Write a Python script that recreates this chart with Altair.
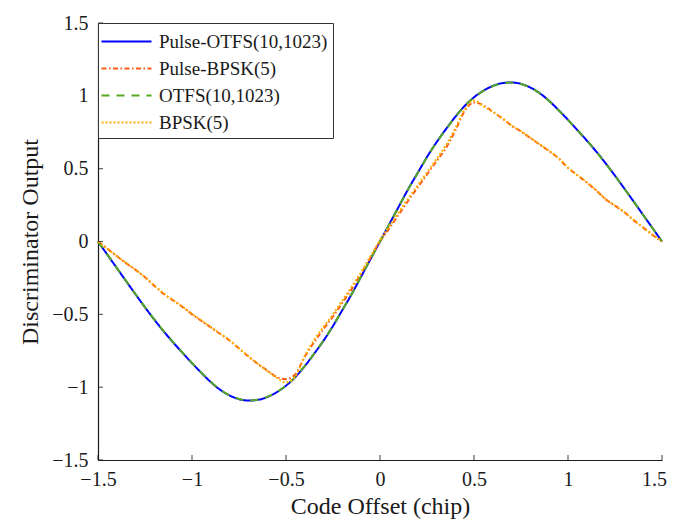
import altair as alt
import pandas as pd

# Code offset grid (chip)
offset = [-1.5, -1.45, -1.4, -1.35, -1.3, -1.25, -1.2, -1.15, -1.1, -1.05,
          -1.0, -0.95, -0.9, -0.85, -0.8, -0.75, -0.7, -0.65, -0.6, -0.55,
          -0.5, -0.45, -0.4, -0.35, -0.3, -0.25, -0.2, -0.15, -0.1, -0.05,
          0.0, 0.05, 0.1, 0.15, 0.2, 0.25, 0.3, 0.35, 0.4, 0.45,
          0.5, 0.55, 0.6, 0.65, 0.7, 0.75, 0.8, 0.85, 0.9, 0.95,
          1.0, 1.05, 1.1, 1.15, 1.2, 1.25, 1.3, 1.35, 1.4, 1.45, 1.5]

pulse_otfs = [0.0, -0.091, -0.182, -0.273, -0.363, -0.452, -0.537, -0.618, -0.693, -0.765,
              -0.835, -0.902, -0.965, -1.018, -1.057, -1.082, -1.092, -1.087, -1.068, -1.035,
              -0.99, -0.93, -0.855, -0.77, -0.68, -0.58, -0.47, -0.36, -0.24, -0.12,
              0.0, 0.12, 0.24, 0.36, 0.47, 0.58, 0.68, 0.77, 0.855, 0.93,
              0.99, 1.035, 1.068, 1.087, 1.092, 1.082, 1.057, 1.018, 0.965, 0.902,
              0.835, 0.765, 0.693, 0.618, 0.537, 0.452, 0.363, 0.273, 0.182, 0.091, 0.0]

otfs = [0.0, -0.09, -0.181, -0.272, -0.362, -0.451, -0.536, -0.617, -0.692, -0.764,
        -0.834, -0.901, -0.964, -1.017, -1.056, -1.081, -1.091, -1.086, -1.067, -1.034,
        -0.989, -0.929, -0.854, -0.769, -0.679, -0.579, -0.469, -0.359, -0.239, -0.119,
        0.0, 0.119, 0.239, 0.359, 0.469, 0.579, 0.679, 0.769, 0.854, 0.929,
        0.989, 1.034, 1.067, 1.086, 1.091, 1.081, 1.056, 1.017, 0.964, 0.901,
        0.834, 0.764, 0.692, 0.617, 0.536, 0.451, 0.362, 0.272, 0.181, 0.09, 0.0]

pulse_bpsk = [0.0, -0.05, -0.1, -0.15, -0.195, -0.245, -0.305, -0.36, -0.405, -0.45,
              -0.5, -0.545, -0.59, -0.635, -0.68, -0.735, -0.79, -0.84, -0.885, -0.93,
              -0.945, -0.91, -0.79, -0.69, -0.6, -0.515, -0.42, -0.325, -0.22, -0.11,
              0.0, 0.09, 0.185, 0.28, 0.37, 0.46, 0.55, 0.64, 0.76, 0.895,
              0.955, 0.935, 0.89, 0.845, 0.795, 0.755, 0.71, 0.665, 0.62, 0.57,
              0.505, 0.455, 0.405, 0.35, 0.29, 0.245, 0.2, 0.145, 0.095, 0.045, 0.0]

bpsk = [0.0, -0.05, -0.1, -0.148, -0.195, -0.245, -0.302, -0.357, -0.403, -0.448,
        -0.497, -0.542, -0.588, -0.632, -0.678, -0.733, -0.788, -0.84, -0.888, -0.935,
        -0.968, -0.925, -0.785, -0.675, -0.585, -0.5, -0.405, -0.31, -0.21, -0.1,
        0.01, 0.105, 0.2, 0.295, 0.385, 0.475, 0.565, 0.66, 0.775, 0.905,
        0.968, 0.928, 0.89, 0.847, 0.797, 0.757, 0.712, 0.667, 0.622, 0.572,
        0.507, 0.457, 0.407, 0.352, 0.292, 0.247, 0.202, 0.147, 0.097, 0.047, 0.0]

series_names = ["Pulse-OTFS(10,1023)", "Pulse-BPSK(5)", "OTFS(10,1023)", "BPSK(5)"]
series_values = [pulse_otfs, pulse_bpsk, otfs, bpsk]
colors = ["#0000ff", "#ff5a14", "#55a91e", "#ffb000"]
dashes = [[1, 0], [5, 2.5, 1.5, 2.5], [8, 7], [2, 2]]

tick_values = [-1.5, -1, -0.5, 0, 0.5, 1, 1.5]

rows = []
for name, vals in zip(series_names, series_values):
    for xv, yv in zip(offset, vals):
        rows.append({"offset": xv, "value": yv, "series": name})
df = pd.DataFrame(rows)
ticks_df = pd.DataFrame({"t": tick_values})

FONT = "Liberation Serif"
TXT = "#1a1a1a"

xscale = alt.Scale(domain=[-1.5, 1.5], nice=False, zero=False)
yscale = alt.Scale(domain=[-1.5, 1.5], nice=False, zero=False)

legend = alt.Legend(
    title=None, orient="top-left", offset=0, padding=5,
    strokeColor="#333333", fillColor="white",
    symbolType="M-2,0L2,0", symbolSize=625, symbolStrokeWidth=2,
    labelFont=FONT, labelFontSize=19, labelColor=TXT, labelOffset=19,
    symbolOffset=10,
    labelLimit=0, rowPadding=3,
)
color_enc = alt.Color("series:N", scale=alt.Scale(domain=series_names, range=colors),
                      legend=legend)
dash_enc = alt.StrokeDash("series:N", scale=alt.Scale(domain=series_names, range=dashes),
                          legend=legend)

x_axis = alt.Axis(values=tick_values, format="~g", ticks=False, grid=False,
                  labelFont=FONT, labelFontSize=20, labelColor=TXT, labelPadding=9,
                  labelFlush=False,
                  labelOffset={"condition": {"test": "datum.value == 1.5", "value": -8},
                               "value": 0},
                  domainColor=TXT, domainWidth=1.2,
                  title="Code Offset (chip)", titleFont=FONT, titleFontSize=24,
                  titleFontWeight="normal", titleColor=TXT, titlePadding=5)
y_axis = alt.Axis(values=tick_values, format="~g", ticks=False, grid=False,
                  labelFont=FONT, labelFontSize=20, labelColor=TXT, labelPadding=10,
                  labelFlush=False,
                  domainColor=TXT, domainWidth=1.2,
                  title="Discriminator Output", titleFont=FONT, titleFontSize=24,
                  titleFontWeight="normal", titleColor=TXT, titlePadding=9)

layers = []
for name in series_names:
    layer = alt.Chart(df).transform_filter(
        alt.datum.series == name
    ).mark_line(strokeWidth=2, interpolate="monotone").encode(
        x=alt.X("offset:Q", scale=xscale, axis=x_axis, title="Code Offset (chip)"),
        y=alt.Y("value:Q", scale=yscale, axis=y_axis, title="Discriminator Output"),
        color=color_enc,
        strokeDash=dash_enc,
    )
    layers.append(layer)

xticks = alt.Chart(ticks_df).mark_tick(orient="vertical", size=5, thickness=1.2,
                                       color=TXT, yOffset=-2.5).encode(
    x=alt.X("t:Q", scale=xscale, axis=x_axis, title="Code Offset (chip)"),
    y=alt.YDatum(-1.5, scale=yscale, axis=y_axis, title="Discriminator Output"),
)
yticks = alt.Chart(ticks_df).mark_tick(orient="horizontal", size=5, thickness=1.2,
                                       color=TXT, xOffset=2.5).encode(
    y=alt.Y("t:Q", scale=yscale, axis=y_axis, title="Discriminator Output"),
    x=alt.XDatum(-1.5, scale=xscale, axis=x_axis, title="Code Offset (chip)"),
)

chart = alt.layer(*layers, xticks, yticks).properties(
    width=564, height=437,
    padding={"left": 90, "top": 15, "right": 5, "bottom": 60},
    autosize=alt.AutoSizeParams(type="none"),
    background="white",
).configure_view(stroke="transparent")

chart.save("out.html", embed_options={"renderer": "svg", "actions": False})
